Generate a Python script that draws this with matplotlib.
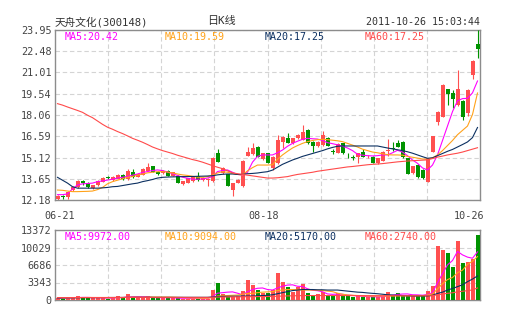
import numpy as np
import matplotlib
matplotlib.use('Agg')
import matplotlib.pyplot as plt

plt.rcParams['font.family'] = ['DejaVu Sans Mono', 'Noto Sans CJK SC']

# daily candles, 2011-06-21 .. 2011-10-26
opens = [12.25, 12.45, 12.38, 12.85, 13.05, 13.50, 13.35, 13.02, 13.20, 13.45,
         13.75, 13.55, 13.65, 13.90, 13.62, 14.15, 13.80, 13.91, 14.21, 14.53,
         14.14, 14.03, 14.21, 13.85, 13.85, 13.27, 13.38, 13.50, 13.85, 13.56,
         13.55, 13.52, 15.45, 14.05, 13.95, 12.87, 13.38, 13.15, 15.23, 15.34,
         15.87, 15.00, 15.41, 14.37, 14.72, 16.22, 16.45, 16.10, 16.45, 16.33,
         17.00, 16.22, 15.90, 15.99, 16.45, 15.60, 15.45, 16.10, 15.32, 15.14,
         15.18, 15.52, 15.20, 15.18, 14.76, 14.90, 15.60, 15.80, 16.15, 16.22,
         15.07, 14.03, 14.60, 14.26, 13.45, 15.52, 17.60, 17.95, 19.84, 19.60,
         18.76, 19.06, 18.18, 20.84, 22.98]
highs = [12.50, 12.52, 12.80, 13.15, 13.55, 13.55, 13.40, 13.25, 13.55, 13.75,
         13.82, 13.85, 13.95, 13.95, 14.30, 14.35, 14.05, 14.38, 14.73, 14.56,
         14.18, 14.25, 14.25, 14.12, 13.90, 13.52, 13.70, 13.82, 14.14, 13.75,
         13.70, 15.15, 15.68, 14.45, 14.00, 13.38, 13.60, 14.95, 15.87, 16.15,
         15.95, 15.45, 15.45, 15.20, 16.68, 16.60, 16.80, 16.50, 16.75, 17.37,
         17.10, 16.25, 16.25, 16.98, 16.55, 15.72, 16.10, 16.15, 15.45, 15.28,
         15.45, 15.70, 15.30, 15.20, 15.10, 15.55, 16.40, 16.22, 16.35, 16.25,
         15.10, 14.55, 14.65, 14.30, 15.10, 16.62, 18.32, 20.18, 19.88, 19.80,
         21.18, 19.10, 19.85, 21.85, 23.95]
lows = [12.18, 12.22, 12.25, 12.80, 13.00, 13.25, 13.00, 12.95, 13.15, 13.40,
        13.62, 13.50, 13.60, 13.55, 13.55, 13.72, 13.75, 13.88, 14.18, 14.12,
        13.94, 14.00, 13.82, 13.82, 13.36, 13.24, 13.35, 13.45, 13.50, 13.50,
        13.15, 13.45, 14.80, 14.00, 13.15, 12.48, 13.35, 13.10, 15.20, 15.30,
        15.15, 14.95, 14.72, 14.26, 14.70, 15.76, 16.12, 16.05, 16.42, 16.30,
        16.05, 15.50, 15.88, 15.95, 15.90, 15.35, 15.42, 15.38, 15.12, 14.98,
        14.76, 15.15, 15.10, 14.72, 14.70, 14.88, 15.20, 15.55, 15.85, 15.12,
        13.96, 14.00, 13.70, 13.60, 13.40, 15.50, 17.40, 17.90, 18.76, 18.53,
        18.70, 17.70, 18.00, 20.56, 21.99]
closes = [12.45, 12.38, 12.75, 13.10, 13.50, 13.35, 13.05, 13.20, 13.50, 13.70,
          13.68, 13.80, 13.90, 13.62, 14.20, 13.80, 14.00, 14.33, 14.49, 14.14,
          13.96, 14.21, 13.85, 14.10, 13.38, 13.50, 13.68, 13.80, 13.56, 13.70,
          13.65, 15.11, 14.83, 14.40, 13.17, 13.34, 13.56, 14.90, 15.52, 15.80,
          15.18, 15.41, 14.75, 15.18, 16.34, 16.56, 16.15, 16.45, 16.68, 16.90,
          16.10, 15.92, 16.20, 16.68, 15.92, 15.50, 16.05, 15.40, 15.28, 15.10,
          15.41, 15.18, 15.22, 14.74, 15.07, 15.52, 15.65, 15.72, 15.87, 15.14,
          13.98, 14.53, 13.75, 13.68, 15.07, 16.60, 18.30, 20.14, 19.50, 19.15,
          19.84, 17.90, 19.80, 21.83, 22.61]
volumes = [300, 250, 500, 550, 750, 350, 350, 350, 400, 500,
           250, 350, 750, 400, 1150, 500, 350, 400, 750, 400,
           350, 350, 350, 350, 400, 250, 250, 250, 250, 250,
           250, 1950, 3300, 1150, 650, 650, 750, 1800, 3850, 2870,
           2000, 1300, 1300, 1900, 5200, 3450, 2450, 1500, 2500, 3000,
           1300, 1000, 1100, 1500, 900, 900, 1300, 900, 700, 600,
           800, 600, 500, 600, 600, 800, 1600, 1000, 1300, 1000,
           900, 800, 900, 900, 1750, 2600, 10400, 9500, 8900, 6300,
           11300, 7100, 7350, 7850, 12350]

# moving average lines as drawn on the price panel
ma5 = [12.55, 12.55, 12.60, 12.95, 13.22, 13.30, 13.32, 13.35, 13.45, 13.50,
       13.56, 13.62, 13.70, 13.75, 13.82, 13.90, 13.98, 14.08, 14.15, 14.22,
       14.26, 14.22, 14.12, 14.00, 13.88, 13.76, 13.68, 13.62, 13.62, 13.64,
       13.70, 13.80, 14.15, 14.22, 14.26, 14.10, 13.95, 13.90, 14.10, 14.80,
       15.20, 15.30, 15.30, 15.30, 15.45, 15.64, 15.90, 16.10, 16.25, 16.38,
       16.45, 16.42, 16.40, 16.30, 16.15, 16.08, 16.00, 15.90, 15.78, 15.60,
       15.35, 15.28, 15.25, 15.23, 15.25, 15.30, 15.30, 15.45, 15.62, 15.50,
       15.25, 14.95, 14.72, 14.40, 14.26, 14.60, 15.30, 16.30, 17.30, 18.30,
       19.05, 19.20, 19.22, 19.60, 20.42]
ma10 = [12.87, 12.85, 12.80, 12.76, 12.76, 12.77, 12.78, 12.80, 12.90, 13.05,
        13.30, 13.45, 13.55, 13.65, 13.75, 13.80, 13.90, 13.98, 14.06, 14.10,
        14.14, 14.14, 14.12, 14.05, 13.98, 13.92, 13.88, 13.82, 13.76, 13.75,
        13.80, 13.90, 14.05, 14.14, 14.10, 14.02, 13.95, 13.91, 14.20, 14.42,
        14.60, 14.60, 14.60, 14.62, 15.00, 15.30, 15.55, 15.78, 15.95, 16.10,
        16.22, 16.30, 16.36, 16.38, 16.36, 16.32, 16.28, 16.22, 16.10, 15.98,
        15.85, 15.70, 15.60, 15.50, 15.45, 15.38, 15.32, 15.30, 15.30, 15.28,
        15.20, 15.14, 15.08, 15.02, 15.00, 15.10, 15.30, 15.60, 15.95, 16.30,
        16.70, 17.00, 17.30, 18.10, 19.59]
ma20 = [13.75, 13.55, 13.35, 13.10, 13.00, 13.00, 13.00, 13.00, 13.00, 13.02,
        13.05, 13.10, 13.12, 13.18, 13.24, 13.30, 13.35, 13.45, 13.52, 13.60,
        13.70, 13.75, 13.77, 13.78, 13.79, 13.80, 13.80, 13.81, 13.82, 13.83,
        13.84, 13.86, 13.92, 13.96, 13.98, 13.98, 13.95, 13.95, 14.00, 14.02,
        14.05, 14.10, 14.14, 14.25, 14.45, 14.65, 14.80, 14.95, 15.07, 15.20,
        15.30, 15.40, 15.50, 15.60, 15.72, 15.82, 15.90, 15.92, 15.92, 15.92,
        15.92, 15.92, 15.92, 15.92, 15.92, 15.85, 15.78, 15.72, 15.66, 15.60,
        15.52, 15.42, 15.30, 15.18, 15.07, 15.10, 15.25, 15.40, 15.55, 15.68,
        15.85, 16.02, 16.20, 16.50, 17.20]
ma60 = [18.85, 18.75, 18.62, 18.50, 18.38, 18.25, 18.05, 17.88, 17.65, 17.42,
        17.22, 17.08, 16.92, 16.78, 16.62, 16.45, 16.32, 16.18, 16.02, 15.85,
        15.72, 15.60, 15.50, 15.40, 15.28, 15.18, 15.08, 14.98, 14.90, 14.80,
        14.68, 14.56, 14.45, 14.35, 14.20, 14.06, 14.00, 13.95, 13.90, 13.85,
        13.80, 13.75, 13.70, 13.70, 13.72, 13.76, 13.80, 13.88, 13.95, 14.00,
        14.05, 14.10, 14.17, 14.22, 14.27, 14.32, 14.37, 14.42, 14.47, 14.50,
        14.54, 14.58, 14.62, 14.65, 14.67, 14.70, 14.74, 14.78, 14.82, 14.85,
        14.88, 14.90, 14.92, 14.94, 14.96, 15.05, 15.15, 15.22, 15.30, 15.36,
        15.42, 15.50, 15.60, 15.70, 15.80]

# moving average lines on the volume panel
vol_ma5 = [350, 330, 380, 420, 470, 500, 500, 460, 450, 390,
           370, 370, 450, 450, 580, 620, 630, 620, 630, 480,
           450, 450, 440, 440, 370, 340, 320, 300, 280, 250,
           250, 640, 1300, 1400, 1500, 1550, 1300, 1000, 1550, 2000,
           2240, 2300, 2000, 1900, 2300, 2640, 2850, 2900, 2620, 2580,
           2150, 1860, 1780, 1580, 1160, 1080, 1140, 1100, 940, 880,
           780, 720, 640, 620, 620, 620, 820, 920, 1060, 1140,
           1160, 1000, 980, 920, 1050, 1390, 3300, 5030, 6700, 7540,
           9280, 8620, 8190, 7980, 9190]
vol_ma10 = [400, 390, 400, 420, 450, 470, 480, 470, 460, 430,
            430, 430, 460, 460, 520, 540, 540, 520, 560, 560,
            560, 560, 560, 540, 500, 480, 420, 380, 360, 340,
            340, 480, 760, 800, 850, 900, 950, 1100, 1250, 1270,
            1400, 1500, 1550, 1600, 1800, 1900, 2000, 2000, 1950, 1900,
            1900, 1900, 1880, 1800, 1700, 1600, 1300, 1100, 960, 900,
            860, 800, 760, 760, 760, 760, 760, 770, 800, 800,
            800, 800, 810, 820, 950, 1150, 2100, 3100, 3900, 4300,
            5200, 5700, 6800, 7400, 8300]
vol_ma20 = [380, 400, 420, 420, 430, 440, 440, 450, 450, 460,
            470, 480, 480, 490, 500, 500, 510, 510, 510, 510,
            510, 510, 510, 510, 510, 510, 510, 510, 510, 510,
            510, 580, 660, 690, 700, 720, 740, 760, 760, 760,
            800, 850, 900, 1000, 1200, 1400, 1600, 1800, 1900, 2000,
            2000, 2000, 1950, 1950, 1900, 1900, 1900, 1800, 1700, 1600,
            1500, 1450, 1350, 1270, 1200, 1100, 1000, 950, 900, 850,
            800, 760, 760, 760, 760, 900, 1250, 1500, 1900, 2200,
            2550, 2900, 3500, 4000, 4600]
vol_ma60 = [460, 460, 460, 470, 470, 470, 470, 480, 480, 480,
            480, 480, 490, 490, 490, 490, 500, 500, 500, 500,
            500, 500, 500, 500, 500, 500, 500, 500, 500, 500,
            500, 520, 560, 570, 580, 590, 600, 620, 630, 640,
            650, 660, 670, 680, 720, 750, 780, 800, 820, 840,
            850, 850, 850, 850, 850, 850, 850, 850, 840, 840,
            840, 830, 830, 830, 820, 820, 820, 820, 810, 810,
            810, 800, 800, 800, 800, 830, 990, 1140, 1280, 1380,
            1560, 1670, 1790, 1920, 2300]

price_ticks = [12.18, 13.65, 15.12, 16.59, 18.06, 19.54, 21.01, 22.48, 23.95]
vol_ticks = [0, 3343, 6686, 10029, 13372]
date_labels = ['06-21', '08-18', '10-26']

RED = '#ff5050'
GREEN = '#009300'
C_MA5 = '#ff00ff'
C_MA10 = '#ffa21a'
C_MA20 = '#0b2f60'
C_MA60 = '#ff4a4a'
TXT = '#333333'

o = np.array(opens)
c = np.array(closes)
n = len(c)
idx = np.arange(n)
cols = np.where(c >= o, RED, GREEN)

W, H = 505, 330
fig = plt.figure(figsize=(W / 100, H / 100), dpi=100)
ax = fig.add_axes([55 / W, 1 - 200 / H, 425 / W, 170 / H])
axv = fig.add_axes([55 / W, 1 - 300 / H, 425 / W, 70 / H])

# price candles
ax.vlines(idx, lows, highs, colors=cols, lw=0.8, zorder=3)
body = np.maximum(np.abs(c - o), 0.035)
ax.bar(idx, body, bottom=np.minimum(o, c), width=0.8, color=cols, lw=0, zorder=3)
for vals, col in [(ma5, C_MA5), (ma10, C_MA10), (ma20, C_MA20), (ma60, C_MA60)]:
    ax.plot(idx, vals, color=col, lw=0.8, zorder=4)

# volume bars
axv.bar(idx, volumes, width=0.8, color=cols, lw=0, zorder=3)
for vals, col in [(vol_ma5, C_MA5), (vol_ma10, C_MA10), (vol_ma20, C_MA20), (vol_ma60, C_MA60)]:
    axv.plot(idx, vals, color=col, lw=0.8, zorder=4)

vgrid = np.linspace(-0.5, n - 0.5, 9)[1:-1]
for a, yl, yt in [(ax, (price_ticks[0], price_ticks[-1]), price_ticks),
                  (axv, (vol_ticks[0], vol_ticks[-1]), vol_ticks)]:
    a.set_xlim(-0.5, n - 0.5)
    a.set_ylim(*yl)
    a.set_xticks(vgrid)
    a.set_xticklabels([])
    a.set_yticks(yt)
    a.tick_params(length=0, labelsize=7.3, labelcolor='#444444', pad=2.5)
    a.grid(True, color='#d4d4d4', ls=(0, (4, 2.5)), lw=0.8, zorder=0)
    for s in a.spines.values():
        s.set_color('#8c8c8c')
        s.set_linewidth(1.0)
ax.set_yticklabels(['%.2f' % t for t in price_ticks])
axv.set_yticklabels([str(t) for t in vol_ticks])

# date labels under the price panel
ax.text(-0.024, -0.095, date_labels[0], transform=ax.transAxes, ha='left',
        va='center', fontsize=7.3, color='#444444')
ax.text(0.492, -0.095, date_labels[1], transform=ax.transAxes, ha='center',
        va='center', fontsize=7.3, color='#444444')
ax.text(1.01, -0.095, date_labels[2], transform=ax.transAxes, ha='right',
        va='center', fontsize=7.3, color='#444444')

# legends inside the panels
for k, (lab, col) in enumerate([('MA5:20.42', C_MA5), ('MA10:19.59', C_MA10),
                                ('MA20:17.25', C_MA20), ('MA60:17.25', C_MA60)]):
    ax.text(0.0235 + k * 0.2353, 0.961, lab, transform=ax.transAxes,
            ha='left', va='center', fontsize=7.2, color=col)
for k, (lab, col) in enumerate([('MA5:9972.00', C_MA5), ('MA10:9094.00', C_MA10),
                                ('MA20:5170.00', C_MA20), ('MA60:2740.00', C_MA60)]):
    axv.text(0.0235 + k * 0.2353, 0.905, lab, transform=axv.transAxes,
             ha='left', va='center', fontsize=7.2, color=col)

# header
fig.text(55 / W, 1 - 22 / H, '天舟文化(300148)', ha='left', va='center',
         fontsize=7.7, color=TXT)
fig.text(207 / W, 1 - 21 / H, '日K线', ha='left', va='center',
         fontsize=7.9, color=TXT)
fig.text(480 / W, 1 - 22 / H, '2011-10-26 15:03:44', ha='right', va='center',
         fontsize=7.2, color=TXT)

fig.savefig('out.png', dpi=100, facecolor='white')
